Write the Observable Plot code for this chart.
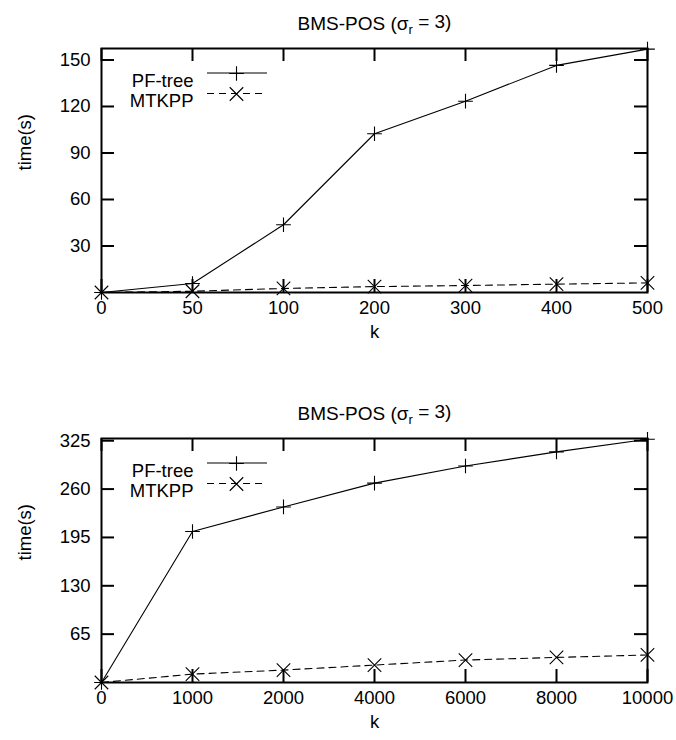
<!DOCTYPE html>
<html><head><meta charset="utf-8">
<script src="https://cdn.jsdelivr.net/npm/d3@7"></script>
<script src="https://cdn.jsdelivr.net/npm/@observablehq/plot@0.6"></script>
<style>
body{margin:0;background:#fff;}
#chart{width:676px;height:740px;overflow:hidden;}
#chart svg{display:block;}
</style>
</head><body><div id="chart"></div>
<script>
// ---- data ----
const kTop = ["0","50","100","200","300","400","500"];
const pfTop = [0, 5.8, 43.7, 102.4, 123.4, 146.5, 157];
const mtTop = [0, 0.8, 2.6, 3.8, 4.5, 5.4, 6.2];
const yTicksTop = [30, 60, 90, 120, 150];

const kBot = ["0","1000","2000","4000","6000","8000","10000"];
const pfBot = [0, 203, 236, 268, 291, 310, 327];
const mtBot = [0, 11.3, 16.7, 23.4, 30.2, 33.7, 37];
const yTicksBot = [65, 130, 195, 260, 325];

const seriesNames = ["PF-tree", "MTKPP"];
const titleMain = "BMS-POS (σ";
const titleSub = "r";
const titleTail = " = 3)";
const yLabel = "time(s)";
const xLabel = "k";

const FONT = "'Liberation Sans', Arial, Helvetica, sans-serif";
const W = 676;
const FS = 18.5;

function panel(k, pf, mt, yTicks, yMax, height, marginTop, marginBottom) {
  const marginLeft = 101, marginRight = 29;
  const fw = W - marginLeft - marginRight;
  const fh = height - marginTop - marginBottom;
  const rows = [];
  k.forEach((kk, i) => {
    rows.push({k: kk, v: pf[i], s: seriesNames[0]});
    rows.push({k: kk, v: mt[i], s: seriesNames[1]});
  });
  const pfRows = rows.filter(d => d.s === seriesNames[0]);
  const mtRows = rows.filter(d => d.s === seriesNames[1]);
  const tl = 13;
  const plot = Plot.plot({
    width: W, height, marginLeft, marginRight, marginTop, marginBottom,
    style: {fontFamily: FONT, fontSize: FS + "px", color: "black", background: "white", overflow: "visible"},
    x: {type: "point", domain: k, padding: 0},
    y: {domain: [0, yMax]},
    marks: [
      Plot.axisX({tickSize: 0, tickPadding: 8, label: null, fontSize: FS}),
      Plot.axisY({ticks: yTicks, tickSize: 0, tickPadding: 11, label: null, fontSize: FS}),
      Plot.tickX(k, {x: d => d, insetTop: fh - tl, strokeWidth: 2, stroke: "black"}),
      Plot.tickX(k, {x: d => d, insetBottom: fh - tl, strokeWidth: 2, stroke: "black"}),
      Plot.tickY(yTicks, {y: d => d, insetRight: fw - tl, strokeWidth: 2, stroke: "black"}),
      Plot.tickY(yTicks, {y: d => d, insetLeft: fw - tl, strokeWidth: 2, stroke: "black"}),
      Plot.line(pfRows, {x: "k", y: "v", stroke: "black", strokeWidth: 1.1}),
      Plot.line(mtRows, {x: "k", y: "v", stroke: "black", strokeWidth: 1.1, strokeDasharray: "7,5"}),
      Plot.frame({stroke: "black", strokeWidth: 2}),
      Plot.dot(pfRows, {x: "k", y: "v", symbol: "plus", r: 4.8, stroke: "black", strokeWidth: 1.1}),
      Plot.dot(mtRows, {x: "k", y: "v", symbol: "times", r: 6.2, stroke: "black", strokeWidth: 1.1}),
      // titles and axis labels
      Plot.text([titleMain], {frameAnchor: "top", dy: -32, fontSize: 19, className: "ttl"}),
      Plot.text([yLabel], {frameAnchor: "left", dx: -76, rotate: -90, fontSize: FS}),
      Plot.text([xLabel], {frameAnchor: "bottom", dy: 45, fontSize: FS}),
      // legend
      Plot.text([seriesNames[0]], {frameAnchor: "top-left", dx: 92, dy: 25, textAnchor: "end", fontSize: FS}),
      Plot.text([seriesNames[1]], {frameAnchor: "top-left", dx: 92, dy: 45.5, textAnchor: "end", fontSize: FS}),
      Plot.dot([seriesNames[0]], {frameAnchor: "top-left", dx: 135, dy: 25, symbol: "plus", r: 4.8, stroke: "black", strokeWidth: 1.1}),
      Plot.dot([seriesNames[1]], {frameAnchor: "top-left", dx: 135, dy: 45.5, symbol: "times", r: 6.2, stroke: "black", strokeWidth: 1.1})
    ]
  });
  const svg = d3.select(plot);
  // subscript in title
  svg.selectAll(".ttl text").each(function() {
    const t = d3.select(this);
    t.text(null);
    t.append("tspan").text(titleMain);
    t.append("tspan").attr("dy", "0.3em").attr("font-size", "13px").text(titleSub);
    t.append("tspan").attr("dy", "-0.3em").text(titleTail);
  });
  // legend line samples
  const x0 = marginLeft + 106, x1 = marginLeft + 166;
  const g = svg.append("g").attr("stroke", "black").attr("stroke-width", 1.1);
  g.append("line").attr("x1", x0).attr("x2", x1).attr("y1", marginTop + 25).attr("y2", marginTop + 25);
  g.append("line").attr("x1", x0).attr("x2", x1).attr("y1", marginTop + 45.5).attr("y2", marginTop + 45.5).attr("stroke-dasharray", "7,5");
  return plot;
}

const root = document.getElementById("chart");
root.appendChild(panel(kTop, pfTop, mtTop, yTicksTop, 157.4, 370, 48, 78));
root.appendChild(panel(kBot, pfBot, mtBot, yTicksBot, 328, 370, 68, 58));
</script>
</body></html>
